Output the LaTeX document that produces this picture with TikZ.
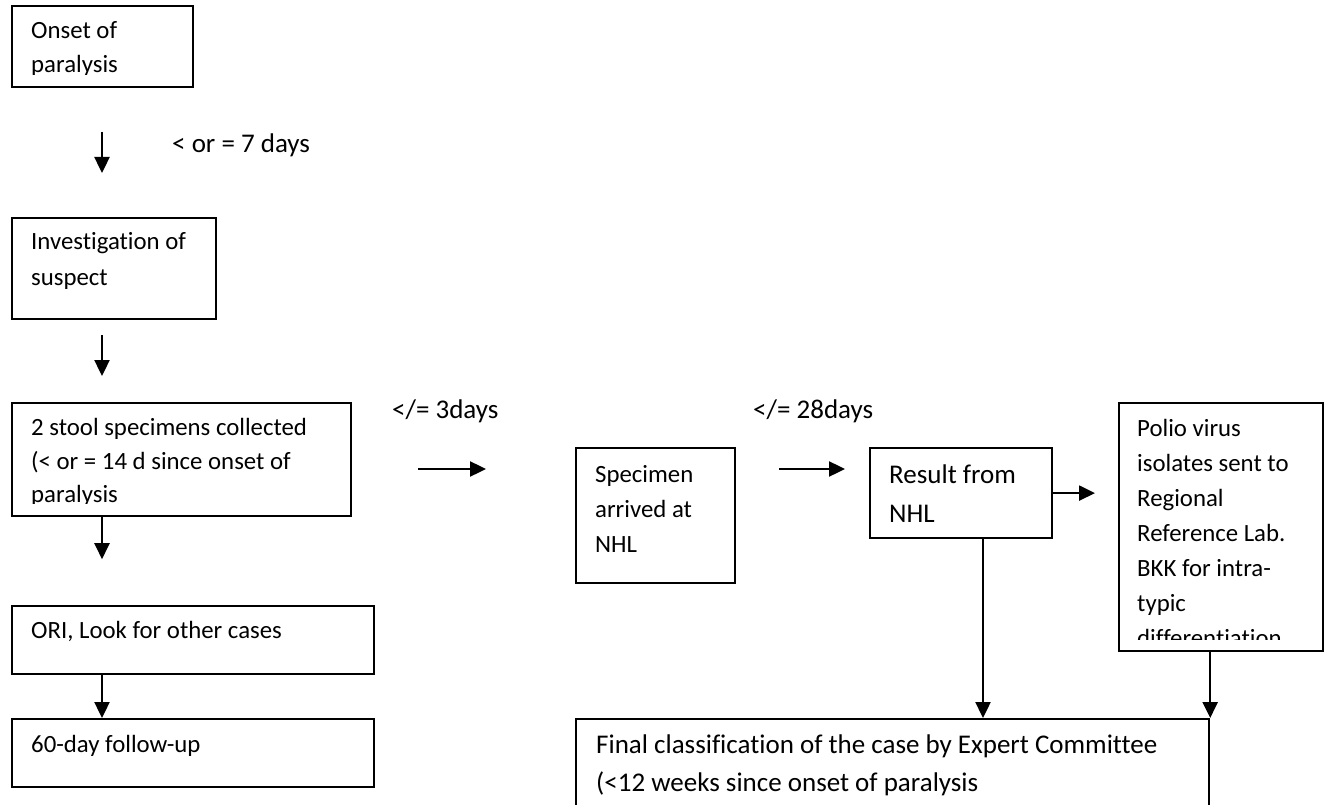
\documentclass[tikz,border=0pt]{standalone}
\usepackage{fontspec}
\setmainfont{Carlito}[RawFeature={-liga;-clig;-dlig}]
\usetikzlibrary{arrows.meta}
\begin{document}
\begin{tikzpicture}[x=1pt,y=-1pt,
  box/.style={draw, line width=2.2pt, inner sep=0pt, anchor=north west},
  txt/.style={anchor=base west, inner sep=0pt, font=\fontsize{24.8}{30}\selectfont},
  bigtxt/.style={anchor=base west, inner sep=0pt, font=\fontsize{27}{32}\selectfont},
  arr/.style={line width=2.4pt, -{Triangle[length=16pt,width=15pt]}}]
\clip (0,0) rectangle (1328,805);
\fill[white] (0,0) rectangle (1328,805);
% boxes
\node[box, minimum width=181pt, minimum height=81pt] (onset) at (11,5) {};
\node[box, minimum width=204pt, minimum height=101pt] (invest) at (11,217) {};
\node[box, minimum width=339pt, minimum height=113pt] (stool) at (11,402) {};
\node[box, minimum width=362pt, minimum height=68pt] (ori) at (11,605) {};
\node[box, minimum width=362pt, minimum height=68pt] (fu) at (11,718) {};
\node[box, minimum width=159pt, minimum height=135pt] (spec) at (575,447) {};
\node[box, minimum width=182pt, minimum height=90pt] (result) at (869,447) {};
\node[box, minimum width=204pt, minimum height=248pt] (polio) at (1118,402) {};
\node[box, minimum width=633pt, minimum height=130pt] (final) at (575,718) {};
% texts
\begin{scope}
\clip (11,5) rectangle (192,75);
\node[txt] (t1a) at (31,39) {Onset of};
\node[txt] (t1b) at (31,73) {paralysis};
\end{scope}
\node[txt] (t2a) at (31,250) {Investigation of};
\node[txt] (t2b) at (31,285) {suspect};
\begin{scope}
\clip (11,402) rectangle (350,503.5);
\node[txt] (t3a) at (31,435) {2 stool specimens collected};
\node[txt] (t3b) at (31,469) {(< or = 14 d since onset of};
\node[txt] (t3c) at (31,502) {paralysis};
\end{scope}
\node[txt] (t4) at (31,638) {ORI, Look for other cases};
\node[txt] (t5) at (31,752) {60-day follow-up};
\node[txt] (t6a) at (595,482) {Specimen};
\node[txt] (t6b) at (595,517) {arrived at};
\node[txt] (t6c) at (595,552) {NHL};
\node[bigtxt] (t7a) at (889,483) {Result from};
\node[bigtxt] (t7b) at (889,522) {NHL};
\begin{scope}
\clip (1118,402) rectangle (1322,639);
\node[txt] (t8a) at (1137,436) {Polio virus};
\node[txt] (t8b) at (1137,471) {isolates sent to};
\node[txt] (t8c) at (1137,506) {Regional};
\node[txt] (t8d) at (1137,541) {Reference Lab.};
\node[txt] (t8e) at (1137,576) {BKK for intra-};
\node[txt] (t8f) at (1137,611) {typic};
\node[txt] (t8g) at (1137,646) {differentiation};
\end{scope}
\node[bigtxt] (t9a) at (596,753) {Final classification of the case by Expert Committee};
\node[bigtxt] (t9b) at (596,791) {(<12 weeks since onset of paralysis};
% labels
\node[bigtxt] (l1) at (172,153) {< or = 7 days};
\node[bigtxt] (l2) at (392,418) {</= 3days};
\node[bigtxt] (l3) at (753,418) {</= 28days};
% arrows
\coordinate (colx) at (102,0);
\coordinate (a1s) at (102,132);
\coordinate (a1e) at (102,173);
\coordinate (a2s) at (102,335);
\coordinate (a2e) at (102,376);
\coordinate (a5s) at (418,469);
\coordinate (a5e) at (486,469);
\coordinate (a6s) at (779,469);
\coordinate (a6e) at (845,469);
\coordinate (a7e) at (1095,0);
\coordinate (c8) at (983,0);
\draw[arr] (a1s) -- (a1e);
\draw[arr] (a2s) -- (a2e);
\draw[arr] (stool.south -| colx) -- ++(0,42);
\draw[arr] (ori.south -| colx) -- (fu.north -| colx);
\draw[arr] (a5s) -- (a5e);
\draw[arr] (a6s) -- (a6e);
\draw[arr] (result.east) -- (result.east -| a7e);
\draw[arr] (result.south -| c8) -- (final.north -| c8);
\draw[arr] (polio.south -| final.north east) -- (final.north east);
\end{tikzpicture}
\end{document}
